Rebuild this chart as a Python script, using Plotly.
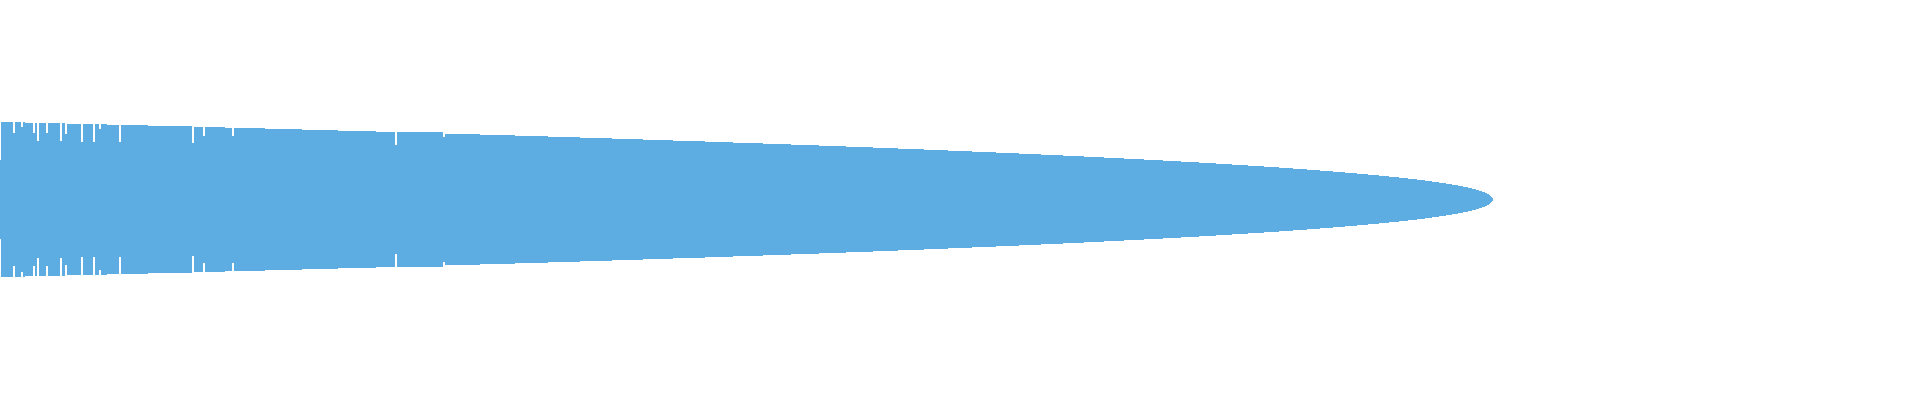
import plotly.graph_objects as go

# rank position where each step starts, and half the spread at that step
step_start = [0, 1, 13, 15, 21, 23, 25, 33, 35, 37, 39, 46, 48, 60, 62, 65, 67,
              81, 83, 93, 95, 99, 101, 107, 119, 121, 148, 192, 194, 203, 205,
              225, 232, 234, 265, 302, 338, 376, 395, 397, 443, 445, 480, 515,
              548, 580, 612, 643, 673, 705, 733, 763, 791, 819, 846, 873, 898,
              924, 948, 972, 996, 1019, 1041, 1063, 1084, 1104, 1124, 1144,
              1163, 1181, 1199, 1216, 1232, 1248, 1264, 1279, 1293, 1307, 1320,
              1333, 1345, 1357, 1368, 1379, 1389, 1399, 1408, 1417, 1425, 1432,
              1439, 1446, 1452, 1458, 1463, 1468, 1472, 1476, 1479, 1482, 1485,
              1487, 1489, 1490, 1491, 1492]
half_height = [39.5, 77.5, 66.5, 77.5, 72.5, 77.5, 76.5, 66.5, 76.5, 58.5, 76.5,
               66.5, 76.5, 58.5, 76.5, 65.5, 75.5, 57.5, 75.5, 57.5, 75.5, 70.5,
               75.5, 74.5, 57.5, 74.5, 73.5, 56.5, 72.5, 63.5, 72.5, 71.5, 63.5,
               71.5, 70.5, 69.5, 68.5, 67.5, 54.5, 67.5, 62.5, 65.5, 64.5, 63.5,
               62.5, 61.5, 60.5, 59.5, 58.5, 57.5, 56.5, 55.5, 54.5, 53.5, 52.5,
               51.5, 50.5, 49.5, 48.5, 47.5, 46.5, 45.5, 44.5, 43.5, 42.5, 41.5,
               40.5, 39.5, 38.5, 37.5, 36.5, 35.5, 34.5, 33.5, 32.5, 31.5, 30.5,
               29.5, 28.5, 27.5, 26.5, 25.5, 24.5, 23.5, 22.5, 21.5, 20.5, 19.5,
               18.5, 17.5, 16.5, 15.5, 14.5, 13.5, 12.5, 11.5, 10.5, 9.5, 8.5,
               7.5, 6.5, 5.5, 4.5, 3.5, 2.5, 1.5]
step_end = 1493

colour = "#5DADE2"

x = step_start + [step_end]
upper = half_height + [half_height[-1]]
lower = [-v for v in upper]

fig = go.Figure()
fig.add_trace(go.Scatter(x=x, y=lower, mode="lines", line=dict(width=0, shape="hv"),
                         hoverinfo="skip"))
fig.add_trace(go.Scatter(x=x, y=upper, mode="lines", line=dict(width=0, shape="hv"),
                         fill="tonexty", fillcolor=colour, hoverinfo="skip"))

fig.update_layout(
    width=1920, height=400,
    margin=dict(l=0, r=0, t=0, b=0),
    showlegend=False,
    paper_bgcolor="white", plot_bgcolor="white",
    xaxis=dict(visible=False, range=[0, 1920]),
    yaxis=dict(visible=False, range=[-200.5, 199.5]),
)

# the page body has a default 8px margin, drop it so the chart fills the window
fig.write_html("out.html", config={"displayModeBar": False},
               post_script="document.body.style.margin = '0';")
